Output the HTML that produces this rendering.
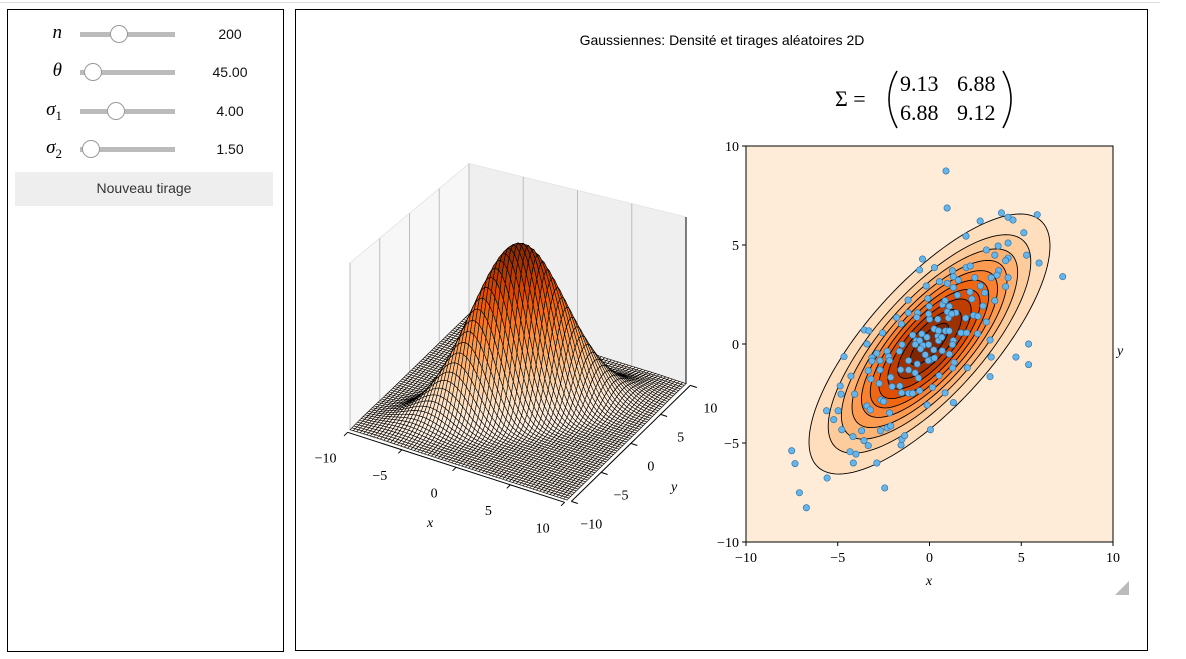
<!DOCTYPE html>
<html><head><meta charset="utf-8">
<style>
body{margin:0;width:1186px;height:659px;background:#fff;position:relative;overflow:hidden;font-family:"Liberation Sans",sans-serif;}
.abs{position:absolute;}
.lbl{font-family:"Liberation Serif",serif;font-style:italic;font-size:19px;text-align:right;width:40px;left:22px;}
.track{left:80px;width:95px;height:5px;background:#bbb;}
.knob{width:16px;height:16px;border:1px solid #999;border-radius:50%;background:#fff;}
.val{left:190px;width:80px;text-align:center;font-size:14px;color:#111;}
</style></head>
<body>
<div class="abs" style="left:0;top:2px;width:1160px;height:1px;background:#ddd"></div>
<div class="abs" style="left:7px;top:9px;width:275px;height:641px;border:1px solid #000"></div>
<div class="abs" style="left:295px;top:9px;width:851px;height:640px;border:1px solid #000"></div>

<div class="abs lbl" style="top:22px">n</div>
<div class="abs track" style="top:32px"></div>
<div class="abs knob" style="left:110px;top:25px"></div>
<div class="abs val" style="top:26px">200</div>

<div class="abs lbl" style="top:60px">θ</div>
<div class="abs track" style="top:70px"></div>
<div class="abs knob" style="left:84px;top:63px"></div>
<div class="abs val" style="top:64px">45.00</div>

<div class="abs lbl" style="top:99px">σ<sub style="font-style:normal;font-size:13px">1</sub></div>
<div class="abs track" style="top:109px"></div>
<div class="abs knob" style="left:107px;top:102px"></div>
<div class="abs val" style="top:103px">4.00</div>

<div class="abs lbl" style="top:137px">σ<sub style="font-style:normal;font-size:13px">2</sub></div>
<div class="abs track" style="top:147px"></div>
<div class="abs knob" style="left:82px;top:140px"></div>
<div class="abs val" style="top:141px">1.50</div>

<div class="abs" style="left:15px;top:172px;width:258px;height:34px;background:#eee;color:#333;font-size:14px;text-align:center;line-height:32px">Nouveau tirage</div>

<svg class="abs" style="left:0;top:0" width="1186" height="659" id="chart">
<text x="722" y="45" text-anchor="middle" font-size="14" fill="#000">Gaussiennes: Densité et tirages aléatoires 2D</text>
<g font-family="Liberation Serif, serif" font-size="22" fill="#000">
<text x="835" y="106">Σ =</text>
<path d="M897 71 Q881 99 897 128" stroke="#000" stroke-width="1.6" fill="none"/>
<path d="M1003 71 Q1019 99 1003 128" stroke="#000" stroke-width="1.6" fill="none"/>
<text x="900" y="91">9.13</text><text x="957" y="91">6.88</text>
<text x="900" y="120">6.88</text><text x="957" y="120">9.12</text>
</g>
<g id="g3d"></g>
<g id="g2d"></g>
<polygon points="1129,581 1129,595 1115,595" fill="#bbb"/>
</svg>

<script>
// ---- data ----
const covXX = 9.13, covXY = 6.88, covYY = 9.12;
const sigmaMajor = 4.0, sigmaMinor = 1.5, thetaDeg = 45;
const contourLevels = [0.0025,0.005,0.0075,0.01,0.0125,0.015,0.0175,0.02,0.0225,0.025];
const xTicks = [-10,-5,0,5,10];
const yTicks = [-10,-5,0,5,10];
const tickLabels = ["−10","−5","0","5","10"];
const sampleX = [0.90,0.96,3.92,4.28,4.55,5.87,2.76,5.14,1.99,3.74,4.28,3.10,5.29,-0.38,3.56,4.28,4.15,5.97,7.26,-0.54,0.27,1.99,2.22,1.25,3.77,3.68,3.36,4.28,1.30,2.47,-0.18,0.54,0.97,1.57,1.30,2.20,2.78,4.15,3.01,-1.17,-0.09,1.52,2.31,3.56,-0.02,0.70,1.08,2.92,-1.16,-0.65,0.97,1.44,2.40,2.64,-1.79,0,0.45,1.03,1.97,3.09,-1.53,-3.56,-3.30,-2.56,0.25,0.87,1.07,1.71,2.02,2.62,-0.92,-0.42,-0.14,0.45,-0.72,-0.54,0.49,1.30,-3.41,3.30,5.40,-1.50,-0.78,0.23,0.69,1.25,-4.66,-2.87,-2.31,-2.22,-1.64,-0.23,0.07,0.27,1.08,-3.14,-2.70,-2.18,-0.07,1.34,3.36,4.71,5.40,-3.14,-3.34,-2.70,-1.57,-1.14,-0.78,-0.60,0.52,1.26,2.06,3.30,-4.28,-3.19,-2.74,-2.11,-2.04,-1.62,-1.14,-0.92,-0.54,0.16,0.85,-4.87,-4.82,-4.08,-2.64,-2.50,-1.52,-0.13,1.30,-3.41,-3.23,-5.61,-4.98,-5.22,-2.18,-4.78,-3.70,-2.67,-2.31,-2.11,0.05,-4.17,-3.57,-3.34,-1.55,-1.50,-1.35,-4.33,-4.01,-7.51,-7.33,-4.15,-2.87,-5.58,-2.44,-7.09,-6.71,-0.36,-0.05,-0.49,-0.67,-1.14,0.49,0.67,-0.69,-0.05,0.85,1.21];
const sampleY = [8.74,6.87,6.62,6.40,6.26,6.53,6.21,5.62,5.45,4.95,5.10,4.75,4.49,4.29,4.49,4.34,4.21,4.09,3.40,3.74,3.86,3.86,3.94,3.70,3.70,3.48,3.35,3.35,3.40,3.35,2.93,3.15,3.06,3.22,2.85,2.63,2.93,2.90,2.59,2.22,2.29,2.47,2.27,2.19,1.90,1.99,1.90,1.92,1.58,1.57,1.63,1.58,1.45,1.40,1.33,1.25,1.25,1.31,1.31,1.11,1.01,0.71,0.66,0.56,0.76,0.66,0.66,0.56,0.56,0.52,0.45,0.51,0.34,0.40,0.17,0.17,0.17,0.17,0,0.20,0,-0.03,-0.02,-0.30,-0.34,-0.03,-0.64,-0.47,-0.37,-0.64,-0.37,-0.54,-0.79,-0.71,-0.51,-0.69,-0.84,-0.84,-0.84,-0.94,-0.66,-0.66,-1.04,-0.86,-1.35,-1.31,-1.30,-1.31,-1.46,-1.72,-1.60,-1.21,-1.20,-1.65,-1.62,-1.77,-1.99,-1.68,-2.15,-2.12,-2.49,-2.49,-2.36,-2.19,-2.47,-2.12,-2.53,-2.53,-2.83,-2.90,-2.47,-3.08,-2.96,-3.13,-3.33,-3.37,-3.37,-3.82,-3.48,-4.33,-4.38,-4.38,-4.24,-4.14,-4.33,-4.68,-4.88,-5.13,-5.10,-4.81,-4.63,-5.44,-5.56,-5.39,-6.04,-6.01,-6.01,-6.77,-7.27,-7.51,-8.27,-0.08,-0.03,-0.25,-1.01,-0.84,0.67,0.34,1.35,1.52,2.19,1.52];

const NS="http://www.w3.org/2000/svg";
function mk(tag,attrs,parent){const e=document.createElementNS(NS,tag);for(const k in attrs)e.setAttribute(k,attrs[k]);parent.appendChild(e);return e;}
const cmapStops=[[255,245,235],[254,230,206],[253,208,162],[253,174,107],[253,141,60],[241,105,19],[217,72,1],[166,54,3],[127,39,4]];
function oranges(t){t=Math.max(0,Math.min(1,t));const p=t*8,i=Math.min(7,Math.floor(p)),f=p-i,a=cmapStops[i],b=cmapStops[i+1];
return `rgb(${Math.round(a[0]+(b[0]-a[0])*f)},${Math.round(a[1]+(b[1]-a[1])*f)},${Math.round(a[2]+(b[2]-a[2])*f)})`;}
const det=covXX*covYY-covXY*covXY;
const fmax=1/(2*Math.PI*Math.sqrt(det));
function dens(x,y){const q=(covYY*x*x-2*covXY*x*y+covXX*y*y)/det;return fmax*Math.exp(-q/2);}

// ---- 3D ----
const g3=document.getElementById('g3d');
const ZTOP=167, ZPEAK=164;
function P(x,y,z){const d=(y-x)/20;return [518+10.85*x+5.95*y, 407+3.5*x-5.8*y - z*(1-0.1*d)];}
function pts(arr){return arr.map(p=>p.join(',')).join(' ');}
let pane=mk('polygon',{points:pts([P(-10,-10,0),P(-10,10,0),P(-10,10,ZTOP),P(-10,-10,ZTOP)]),fill:'#f7f7f7',stroke:'#e6e6e6'},g3);

pane=mk('polygon',{points:pts([P(-10,10,0),P(10,10,0),P(10,10,ZTOP),P(-10,10,ZTOP)]),fill:'#efefef',stroke:'#e6e6e6'},g3);

pane=mk('polygon',{points:pts([P(-10,-10,0),P(10,-10,0),P(10,10,0),P(-10,10,0)]),fill:'#e6e6e6',stroke:'#e0e0e0'},g3);

yTicks.forEach(v=>{const a=P(-10,v,0),b=P(-10,v,ZTOP);const l=mk('line',{x1:a[0],y1:a[1],x2:b[0],y2:b[1],stroke:'#bdbdbd','stroke-width':1},g3);
});
xTicks.forEach(v=>{const a=P(v,10,0),b=P(v,10,ZTOP);const l=mk('line',{x1:a[0],y1:a[1],x2:b[0],y2:b[1],stroke:'#bdbdbd','stroke-width':1},g3);
});
// surface
const N=64, quads=[];
const sg=mk('g',{},g3);
for(let i=0;i<N;i++)for(let j=0;j<N;j++){
 const x0=-10+20*i/N,x1=-10+20*(i+1)/N,y0=-10+20*j/N,y1=-10+20*(j+1)/N;
 const zs=[dens(x0,y0),dens(x1,y0),dens(x1,y1),dens(x0,y1)];
 const zm=(zs[0]+zs[1]+zs[2]+zs[3])/4;
 quads.push({d:((y0+y1)-(x0+x1))/2,zm,p:[P(x0,y0,zs[0]/fmax*ZPEAK),P(x1,y0,zs[1]/fmax*ZPEAK),P(x1,y1,zs[2]/fmax*ZPEAK),P(x0,y1,zs[3]/fmax*ZPEAK)]});}
quads.sort((a,b)=>b.d-a.d);
quads.forEach(q=>{const e=mk('polygon',{points:pts(q.p),fill:oranges(q.zm/fmax),stroke:'#000','stroke-width':0.6},sg);
});
// axes
function line3(a,b,name,col){const l=mk('line',{x1:a[0],y1:a[1],x2:b[0],y2:b[1],stroke:col||'#000','stroke-width':1},g3);}
let a=P(-10,-10.4,0),b=P(10,-10.4,0);line3(a,b,'x-axis-line');
a=P(10.4,-10,0);b=P(10.4,10,0);line3(a,b,'y-axis-line');
a=P(10,10,0);b=P(10,10,ZTOP);line3(a,b,'z-axis-line');
xTicks.forEach((v,k)=>{const p=P(v,-10.4,0),q=P(v,-11,0);line3(p,q,'x-tick');
 const t=mk('text',{x:p[0]-22,y:p[1]+30,'text-anchor':'middle','font-family':'Liberation Serif, serif','font-size':14},g3);t.textContent=tickLabels[k];
 });
yTicks.forEach((v,k)=>{const p=P(10.4,v,0),q=P(11,v,0);line3(p,q,'y-tick');
 const t=mk('text',{x:p[0]+20,y:p[1]+27,'text-anchor':'middle','font-family':'Liberation Serif, serif','font-size':14},g3);t.textContent=tickLabels[k];
 });
let t=mk('text',{x:427,y:527,'font-family':'Liberation Serif, serif','font-style':'italic','font-size':14},g3);t.textContent='x';

t=mk('text',{x:671,y:491,'font-family':'Liberation Serif, serif','font-style':'italic','font-size':14},g3);t.textContent='y';


// ---- 2D ----
const g2=document.getElementById('g2d');
const L=746,R=1113,T=146,B=542;
const sx=v=>L+(v+10)/20*(R-L), sy=v=>B-(v+10)/20*(B-T);
const cp=mk('clipPath',{id:'clip2'},g2);mk('rect',{x:L,y:T,width:R-L,height:B-T},cp);
const bg=mk('rect',{x:L,y:T,width:R-L,height:B-T,fill:oranges(0.08)},g2);

const cg=mk('g',{'clip-path':'url(#clip2)'},g2);
const th=thetaDeg*Math.PI/180,c=Math.cos(th),s=Math.sin(th);
contourLevels.forEach((lv,k)=>{const r=Math.sqrt(2*Math.log(fmax/lv));const ps=[];
 for(let m=0;m<=120;m++){const u=2*Math.PI*m/120;const a1=sigmaMajor*r*Math.cos(u),a2=sigmaMinor*r*Math.sin(u);
  ps.push([sx(a1*c-a2*s),sy(a1*s+a2*c)]);}
 const e=mk('polygon',{points:pts(ps),fill:oranges(0.08+0.92*(k+1)/contourLevels.length),stroke:'#000','stroke-width':0.9},cg);
 });
sampleX.forEach((x,i)=>{const e=mk('circle',{cx:sx(x),cy:sy(sampleY[i]),r:3.2,fill:'#65b4ea',stroke:'#2d6e9e','stroke-width':0.6},cg);
 });
const fr=mk('rect',{x:L,y:T,width:R-L,height:B-T,fill:'none',stroke:'#000','stroke-width':1},g2);

xTicks.forEach((v,k)=>{const e=mk('line',{x1:sx(v),x2:sx(v),y1:B,y2:B+4,stroke:'#000'},g2);
 const tt=mk('text',{x:sx(v),y:B+20,'text-anchor':'middle','font-family':'Liberation Serif, serif','font-size':14},g2);tt.textContent=tickLabels[k];
 });
yTicks.forEach((v,k)=>{const e=mk('line',{x1:L-4,x2:L,y1:sy(v),y2:sy(v),stroke:'#000'},g2);
 const tt=mk('text',{x:L-7,y:sy(v)+5,'text-anchor':'end','font-family':'Liberation Serif, serif','font-size':14},g2);tt.textContent=tickLabels[k];
 });
t=mk('text',{x:929,y:585,'text-anchor':'middle','font-family':'Liberation Serif, serif','font-style':'italic','font-size':14},g2);t.textContent='x';

t=mk('text',{x:1117,y:355,'font-family':'Liberation Serif, serif','font-style':'italic','font-size':14},g2);t.textContent='y';

</script>
</body></html>
